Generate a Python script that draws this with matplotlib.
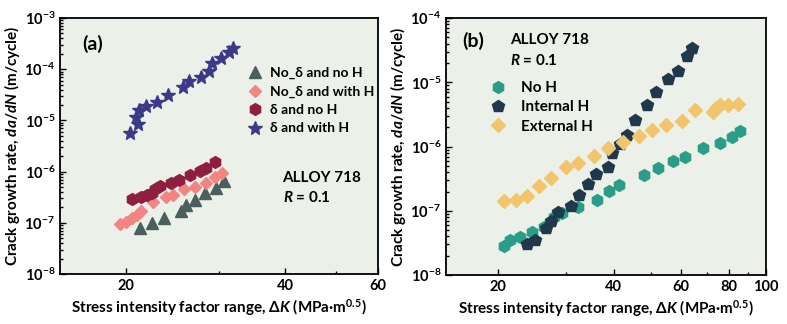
import numpy as np
import matplotlib
matplotlib.use("Agg")
import matplotlib.pyplot as plt
from matplotlib.ticker import LogLocator, FixedLocator, NullFormatter

plt.rcParams.update({
    "font.family": ["Lato", "DejaVu Sans"],
    "font.weight": "bold",
    "axes.labelweight": "bold",
    "mathtext.fontset": "custom",
    "mathtext.rm": "Lato:bold",
    "mathtext.it": "Lato:italic:bold",
    "mathtext.bf": "Lato:bold",
})

# ---------------- panel (a) data ----------------
a_tri_x = [21.3, 22.4, 23.6, 25.4, 26.0, 27.0, 28.2, 29.6, 30.7]
a_tri_y = [8.0e-8, 1.0e-7, 1.22e-7, 1.72e-7, 2.2e-7, 2.8e-7, 3.8e-7, 4.7e-7, 6.6e-7]

a_dia_x = [19.5, 20.0, 20.5, 20.95, 21.4, 22.5, 23.8, 24.6, 25.8, 27.0, 28.3, 29.5, 30.4]
a_dia_y = [9.5e-8, 1.05e-7, 1.22e-7, 1.42e-7, 1.72e-7, 2.5e-7, 3.15e-7, 3.5e-7,
           4.5e-7, 5.1e-7, 6.1e-7, 7.9e-7, 9.3e-7]

a_hex_x = [20.5, 21.4, 21.9, 22.4, 22.7, 23.2, 24.3, 25.2, 26.5, 27.6, 28.3, 29.5]
a_hex_y = [2.9e-7, 3.2e-7, 3.5e-7, 3.9e-7, 4.5e-7, 5.2e-7, 5.9e-7, 6.9e-7,
           8.6e-7, 1.04e-6, 1.16e-6, 1.52e-6]

a_star_x = [20.35, 21.1, 20.9, 21.2, 21.8, 22.9, 24.0, 25.6, 26.3, 27.8, 28.7,
            29.1, 30.3, 31.4, 31.9]
a_star_y = [5.6e-6, 8.5e-6, 1.15e-5, 1.6e-5, 1.9e-5, 2.3e-5, 3.1e-5, 4.4e-5,
            5.9e-5, 7.1e-5, 9.4e-5, 1.3e-4, 1.63e-4, 2.2e-4, 2.6e-4]

a_labels = ["No_δ and no H", "No_δ and with H", "δ and no H", "δ and with H"]

# ---------------- panel (b) data ----------------
b_noh_x = [20.65, 21.5, 22.8, 24.5, 26.3, 27.9, 29.3, 32.2, 36.3, 39.0, 41.4,
           48.1, 52.2, 57.1, 61.3, 68.5, 75.7, 81.3, 85.5]
b_noh_y = [2.84e-8, 3.48e-8, 3.93e-8, 4.7e-8, 5.6e-8, 7.9e-8, 9.1e-8, 1.15e-7,
           1.47e-7, 2.05e-7, 2.5e-7, 3.65e-7, 4.6e-7, 5.97e-7, 6.98e-7, 9.4e-7,
           1.14e-6, 1.40e-6, 1.73e-6]

b_int_x = [23.8, 25.0, 26.6, 27.4, 28.7, 31.0, 32.4, 34.3, 35.9, 38.6, 39.6,
           41.5, 43.3, 45.6, 48.9, 51.7, 55.5, 58.9, 62.3, 64.2]
b_int_y = [3.08e-8, 3.48e-8, 5.4e-8, 7.0e-8, 9.6e-8, 1.2e-7, 1.78e-7, 2.6e-7,
           3.8e-7, 4.9e-7, 7.9e-7, 1.1e-6, 1.49e-6, 2.6e-6, 4.4e-6, 7.2e-6,
           1.14e-5, 1.5e-5, 2.6e-5, 3.4e-5]

b_ext_x = [20.65, 22.3, 23.7, 25.5, 27.5, 30.0, 32.3, 35.6, 38.6, 42.2, 46.5,
           50.4, 54.9, 60.3, 65.4, 72.5, 74.0, 76.0, 79.6, 84.7]
b_ext_y = [1.43e-7, 1.49e-7, 1.71e-7, 2.46e-7, 3.3e-7, 4.75e-7, 5.5e-7, 7.2e-7,
           9.4e-7, 1.17e-6, 1.45e-6, 1.82e-6, 2.2e-6, 2.46e-6, 3.65e-6, 3.4e-6,
           4.0e-6, 4.4e-6, 4.5e-6, 4.6e-6]

b_labels = ["No H", "Internal H", "External H"]

AX_BG = "#EBF1E8"
XLABEL = r"Stress intensity factor range, Δ$K$ (MPa·m$^{0.5}$)"
YLABEL = r"Crack growth rate, $da/dN$ (m/cycle)"

fig = plt.figure(figsize=(7.87, 3.24), dpi=100)
ax1 = fig.add_axes([0.0762, 0.1543, 0.404, 0.790])
ax2 = fig.add_axes([0.5667, 0.151, 0.4066, 0.793])


def style_axes(ax, xlim, ylim, xmajor, xminor):
    ax.set_facecolor(AX_BG)
    ax.set_xscale("log")
    ax.set_yscale("log")
    ax.set_xlim(*xlim)
    ax.set_ylim(*ylim)
    ax.xaxis.set_major_locator(FixedLocator(xmajor))
    ax.xaxis.set_minor_locator(FixedLocator(xminor))
    ax.xaxis.set_minor_formatter(NullFormatter())
    ax.set_xticklabels([str(v) for v in xmajor])
    ax.yaxis.set_major_locator(LogLocator(base=10, numticks=10))
    ax.yaxis.set_minor_locator(LogLocator(base=10, subs=np.arange(2, 10), numticks=10))
    ax.yaxis.set_minor_formatter(NullFormatter())
    ax.tick_params(which="both", direction="in", top=False, right=False,
                   labelsize=10.5, width=1.0)
    ax.tick_params(which="major", length=4)
    ax.tick_params(which="minor", length=2)
    for s in ax.spines.values():
        s.set_linewidth(1.3)
    ax.set_xlabel(XLABEL, fontsize=11, labelpad=3)
    ax.set_ylabel(YLABEL, fontsize=11, labelpad=2)


# ---- (a)
ax1.plot(a_tri_x, a_tri_y, ls="none", marker="^", ms=8, color="#4B5F5D", label=a_labels[0])
ax1.plot(a_dia_x, a_dia_y, ls="none", marker="D", ms=6.5, color="#F28482", label=a_labels[1])
ax1.plot(a_hex_x, a_hex_y, ls="none", marker="h", ms=8.5, color="#8E1F40", label=a_labels[2])
ax1.plot(a_star_x, a_star_y, ls="none", marker="*", ms=10, color="#3B3A8A", label=a_labels[3])
style_axes(ax1, (15, 60), (1e-8, 1e-3), [20, 40, 60], [30, 50])
ax1.text(0.07, 0.90, "(a)", transform=ax1.transAxes, fontsize=14, fontweight="bold",
         va="center")
ax1.text(0.70, 0.375, "ALLOY 718", transform=ax1.transAxes, fontsize=11, va="center")
ax1.text(0.70, 0.30, r"$R$ = 0.1", transform=ax1.transAxes, fontsize=11, va="center")
ax1.legend(loc="upper left", bbox_to_anchor=(0.56, 0.835), frameon=False, fontsize=10,
           handletextpad=0.4, labelspacing=0.45, borderpad=0, handlelength=1.4)

# ---- (b)
ax2.plot(b_noh_x, b_noh_y, ls="none", marker="h", ms=8.5, color="#2A9D88", label=b_labels[0])
ax2.plot(b_int_x, b_int_y, ls="none", marker="p", ms=9, color="#1F384C", label=b_labels[1])
ax2.plot(b_ext_x, b_ext_y, ls="none", marker="D", ms=7, color="#F2C46C", label=b_labels[2])
style_axes(ax2, (14.6, 100), (1e-8, 1e-4), [20, 40, 60, 80, 100], [30, 50, 70, 90])
ax2.text(0.05, 0.91, "(b)", transform=ax2.transAxes, fontsize=14, fontweight="bold",
         va="center")
ax2.text(0.20, 0.915, "ALLOY 718", transform=ax2.transAxes, fontsize=11, va="center")
ax2.text(0.20, 0.835, r"$R$ = 0.1", transform=ax2.transAxes, fontsize=11, va="center")
ax2.legend(loc="upper left", bbox_to_anchor=(0.105, 0.785), frameon=False, fontsize=11,
           handletextpad=0.8, labelspacing=0.35, borderpad=0, handlelength=1.4)

fig.savefig("out.png", dpi=100)
